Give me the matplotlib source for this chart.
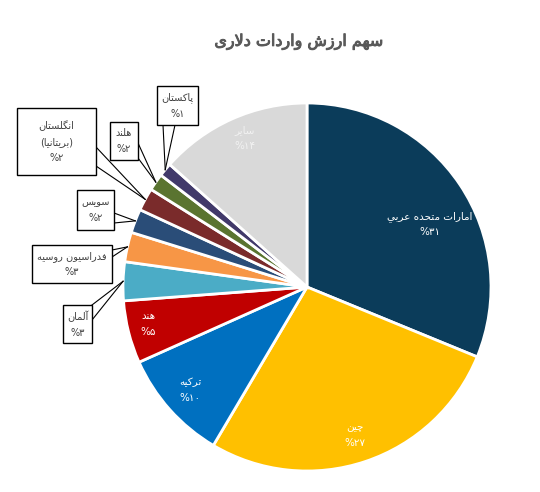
import numpy as np
import matplotlib.pyplot as plt
import matplotlib.patheffects as pe
from matplotlib.patches import Rectangle

plt.rcParams['font.family'] = ['DejaVu Sans']

# data (clockwise from 12 o'clock)
countries = ['امارات متحده عربي', 'چین', 'ترکیه', 'هند', 'آلمان', 'فدراسیون روسیه',
             'سویس', 'انگلستان\n(بریتانیا)', 'هلند', 'پاکستان', 'سایر']
shares = [31.2, 27.3, 9.8, 5.5, 3.4, 2.6, 2.1, 2.0, 1.5, 1.2, 13.4]
pct_labels = [31, 27, 10, 5, 3, 3, 2, 2, 2, 1, 14]
colors = ['#0B3C5A', '#FFC000', '#0070C0', '#C00000', '#4BACC6', '#F79646',
          '#2A4D78', '#7A2B2B', '#5A7430', '#41396A', '#D9D9D9']
title = 'سهم ارزش واردات دلاری'

# presentation forms: (isolated, final) or (isolated, final, initial, medial)
FORMS = {
    'ا': (0xFE8D, 0xFE8E), 'آ': (0xFE81, 0xFE82), 'د': (0xFEA9, 0xFEAA),
    'ر': (0xFEAD, 0xFEAE), 'ز': (0xFEAF, 0xFEB0), 'و': (0xFEED, 0xFEEE),
    'ب': (0xFE8F, 0xFE90, 0xFE91, 0xFE92), 'پ': (0xFB56, 0xFB57, 0xFB58, 0xFB59),
    'ت': (0xFE95, 0xFE96, 0xFE97, 0xFE98), 'ح': (0xFEA1, 0xFEA2, 0xFEA3, 0xFEA4),
    'چ': (0xFB7A, 0xFB7B, 0xFB7C, 0xFB7D), 'س': (0xFEB1, 0xFEB2, 0xFEB3, 0xFEB4),
    'ش': (0xFEB5, 0xFEB6, 0xFEB7, 0xFEB8), 'ع': (0xFEC9, 0xFECA, 0xFECB, 0xFECC),
    'ف': (0xFED1, 0xFED2, 0xFED3, 0xFED4), 'ک': (0xFB8E, 0xFB8F, 0xFB90, 0xFB91),
    'گ': (0xFB92, 0xFB93, 0xFB94, 0xFB95), 'ل': (0xFEDD, 0xFEDE, 0xFEDF, 0xFEE0),
    'م': (0xFEE1, 0xFEE2, 0xFEE3, 0xFEE4), 'ن': (0xFEE5, 0xFEE6, 0xFEE7, 0xFEE8),
    'ه': (0xFEE9, 0xFEEA, 0xFEEB, 0xFEEC), 'ی': (0xFBFC, 0xFBFD, 0xFEF3, 0xFEF4),
    'ي': (0xFEF1, 0xFEF2, 0xFEF3, 0xFEF4),
}
LAM_ALEF = {'ا': (0xFEFB, 0xFEFC), 'آ': (0xFEF5, 0xFEF6)}
FA_DIGITS = str.maketrans('0123456789', '۰۱۲۳۴۵۶۷۸۹')


def shape_line(text):
    # join letters and reverse, since matplotlib does no arabic shaping
    tokens = []
    i = 0
    while i < len(text):
        c = text[i]
        if c == 'ل' and i + 1 < len(text) and text[i + 1] in LAM_ALEF:
            tokens.append(('LA', text[i + 1]))
            i += 2
        else:
            tokens.append(('C', c))
            i += 1
    out = []
    for k, (kind, c) in enumerate(tokens):
        prev = tokens[k - 1] if k > 0 else None
        nxt = tokens[k + 1] if k + 1 < len(tokens) else None
        prev_joins = prev is not None and prev[0] == 'C' and len(FORMS.get(prev[1], ())) == 4
        if kind == 'LA':
            out.append(chr(LAM_ALEF[c][1 if prev_joins else 0]))
            continue
        if c not in FORMS:
            out.append(c)
            continue
        f = FORMS[c]
        next_ok = nxt is not None and (nxt[0] == 'LA' or nxt[1] in FORMS)
        if len(f) == 4 and next_ok:
            out.append(chr(f[3] if prev_joins else f[2]))
        else:
            out.append(chr(f[1] if prev_joins else f[0]))
    mirror = {'(': ')', ')': '('}
    return ''.join(mirror.get(c, c) for c in reversed(out))


def shape(text):
    return '\n'.join(shape_line(t) for t in text.split('\n'))


def pct(v):
    return '%' + str(v).translate(FA_DIGITS)


H = 492
cx, cy, r = 307, 287, 184

fig = plt.figure(figsize=(5.4, 4.92), dpi=100)
ax = fig.add_axes([0, 0, 1, 1])
wedges, _ = ax.pie(shares, colors=colors, startangle=90, counterclock=False,
                   center=(cx, H - cy), radius=r,
                   wedgeprops=dict(edgecolor='white', linewidth=2))
ax.set_xlim(0, 540)
ax.set_ylim(0, H)
ax.set_aspect('equal')
ax.axis('off')

ax.text(299, H - 42, shape(title), ha='center', va='center', fontsize=11.5,
        color='#595959',
        path_effects=[pe.withStroke(linewidth=0.7, foreground='#595959')])

# labels inside slices: index -> (x, y) in pixels
inside = {0: (430, 224), 1: (355, 435), 2: (190, 390), 3: (148, 324), 10: (245, 138)}
for i, (x, y) in inside.items():
    col = '#F2F2F2' if i == 10 else 'white'
    ax.text(x, H - y, shape(countries[i]) + '\n' + pct(pct_labels[i]), ha='center',
            va='center', fontsize=7.5, color=col, linespacing=1.7)

# callout boxes: index -> (x0, x1, y0, y1), leader start points
boxes = {
    9: ((157, 198, 86, 125), [(163, 125), (175, 125)]),
    8: ((110, 138, 122, 160), [(138, 143), (138, 158)]),
    7: ((17, 96, 108, 175), [(96, 147), (96, 166)]),
    6: ((77, 114, 190, 230), [(114, 213), (114, 223)]),
    5: ((32, 112, 245, 283), [(112, 250), (112, 257)]),
    4: ((63, 92, 305, 343), [(92, 305), (92, 320)]),
}
for i, ((x0, x1, y0, y1), starts) in boxes.items():
    w = wedges[i]
    mid = np.deg2rad((w.theta1 + w.theta2) / 2)
    ax_, ay_ = cx + r * np.cos(mid), (H - cy) + r * np.sin(mid)
    for sx, sy in starts:
        ax.plot([sx, ax_], [H - sy, ay_], color='black', lw=0.8, zorder=3)
    ax.add_patch(Rectangle((x0, H - y1), x1 - x0, y1 - y0, facecolor='white',
                           edgecolor='black', lw=1, zorder=4))
    ax.text((x0 + x1) / 2, H - (y0 + y1) / 2,
            shape(countries[i]) + '\n' + pct(pct_labels[i]), ha='center', va='center',
            fontsize=7, color='#404040', linespacing=1.7, zorder=5)

fig.savefig('out.png', dpi=100)
